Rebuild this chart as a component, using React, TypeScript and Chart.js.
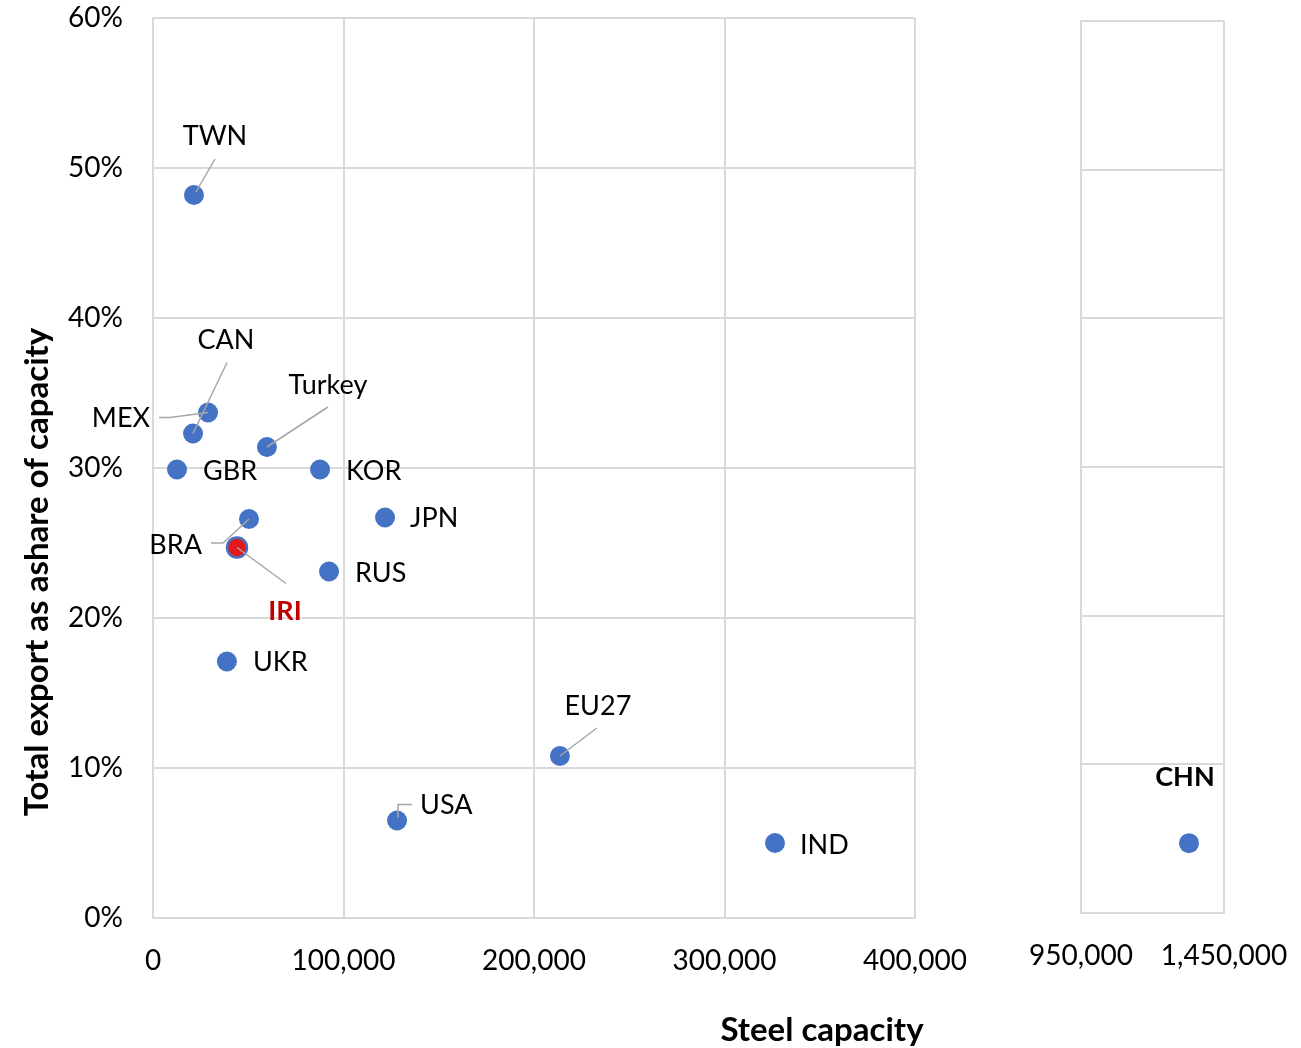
import React, { useEffect, useRef } from "react";
import { Chart, registerables } from "chart.js";

Chart.register(...registerables);

// Steel capacity (thousand tonnes) and total exports as a share of capacity
const countries = ["TWN", "CAN", "MEX", "Turkey", "GBR", "KOR", "JPN", "BRA", "IRI", "RUS", "UKR", "EU27", "USA", "IND"];
const capacity = [21500, 21000, 28900, 59800, 12600, 87700, 121800, 50400, 44100, 92400, 38800, 213600, 128100, 326500];
const exportShare = [0.482, 0.323, 0.337, 0.314, 0.299, 0.299, 0.267, 0.266, 0.247, 0.231, 0.171, 0.108, 0.065, 0.05];

const outlierCountries = ["CHN"];
const outlierCapacity = [1327600];
const outlierShare = [0.047];

const mainXTicks = [0, 100000, 200000, 300000, 400000];
const outlierXTicks = [950000, 1450000];
const yTicks = [0, 0.1, 0.2, 0.3, 0.4, 0.5, 0.6];

const highlighted = "IRI";

// Label placement relative to each marker: text anchor offset, alignment and optional leader line
type Placement = { dx: number; dy: number; align: CanvasTextAlign; leader?: number[][] };
const placements: Record<string, Placement> = {
  TWN: { dx: 21, dy: -59, align: "center", leader: [[2, -3], [21, -36]] },
  CAN: { dx: 33, dy: -93, align: "center", leader: [[0, 0], [34, -71]] },
  MEX: { dx: -58, dy: 6, align: "right", leader: [[0, 0], [-38, 5], [-49, 5]] },
  Turkey: { dx: 61, dy: -62, align: "center", leader: [[0, 0], [61, -40]] },
  GBR: { dx: 26, dy: 2, align: "left" },
  KOR: { dx: 26, dy: 2, align: "left" },
  JPN: { dx: 25, dy: 1, align: "left" },
  BRA: { dx: -47, dy: 26, align: "right", leader: [[0, 0], [-26, 24], [-38, 24]] },
  IRI: { dx: 48, dy: 64, align: "center", leader: [[0, 0], [49, 36]] },
  RUS: { dx: 26, dy: 2, align: "left" },
  UKR: { dx: 26, dy: 1, align: "left" },
  EU27: { dx: 38, dy: -50, align: "center", leader: [[0, 0], [37, -28]] },
  USA: { dx: 23, dy: -15, align: "left", leader: [[1, -3], [1, -16], [15, -16]] },
  IND: { dx: 25, dy: 2, align: "left" },
  CHN: { dx: -4, dy: -66, align: "center" },
};

const FONT = "Lato, Carlito, Calibri, 'Noto Sans', sans-serif";
const BLUE = "#4472C4";
const RED = "#E3191C";
const GRID = "#D9D9D9";
const W = 1301;
const H = 1048;

const pointLabels = (names: string[]) => ({
  id: "pointLabels",
  afterDatasetsDraw(chart: any) {
    const ctx = chart.ctx;
    const meta = chart.getDatasetMeta(0);
    meta.data.forEach((pt: any, i: number) => {
      const name = names[i];
      const p = placements[name];
      if (!p) return;
      ctx.save();
      if (p.leader) {
        ctx.strokeStyle = "#A6A6A6";
        ctx.lineWidth = 1.5;
        ctx.beginPath();
        p.leader.forEach(([lx, ly], k) => {
          if (k === 0) ctx.moveTo(pt.x + lx, pt.y + ly);
          else ctx.lineTo(pt.x + lx, pt.y + ly);
        });
        ctx.stroke();
      }
      const bold = name === highlighted || name === "CHN";
      ctx.font = `${bold ? "bold " : ""}27px ${FONT}`;
      ctx.fillStyle = name === highlighted ? "#C00000" : "#000";
      ctx.textAlign = p.align;
      ctx.textBaseline = "middle";
      ctx.fillText(name, pt.x + p.dx, pt.y + p.dy);
      ctx.restore();
    });
  },
});

const axisTitles = {
  id: "axisTitles",
  afterDraw(chart: any) {
    const ctx = chart.ctx;
    ctx.save();
    ctx.fillStyle = "#000";
    ctx.font = `bold 33px ${FONT}`;
    ctx.textAlign = "center";
    ctx.textBaseline = "middle";
    ctx.fillText("Steel capacity", 822, 1030);
    ctx.translate(37, 572);
    ctx.rotate(-Math.PI / 2);
    ctx.fillText("Total export as ashare of capacity", 0, 0);
    ctx.restore();
  },
};

const fmtNumber = (v: number) => v.toLocaleString("en-US");

function makeConfig(
  names: string[],
  xs: number[],
  ys: number[],
  xTicks: number[],
  area: { left: number; right: number; top: number; bottom: number },
  showY: boolean,
  extraPlugins: any[]
): any {
  const yAxisWidth = showY ? area.left : 100;
  return {
    type: "scatter",
    data: {
      datasets: [
        {
          data: xs.map((x, i) => ({ x, y: ys[i] })),
          pointRadius: 10,
          pointHoverRadius: 10,
          pointBackgroundColor: names.map((n) => (n === highlighted ? RED : BLUE)),
          pointBorderColor: BLUE,
          pointBorderWidth: names.map((n) => (n === highlighted ? 2.5 : 0)),
        },
      ],
    },
    options: {
      responsive: false,
      animation: false,
      events: [],
      layout: {
        padding: { left: area.left - yAxisWidth, top: area.top, right: W - area.right, bottom: 0 },
      },
      plugins: { legend: { display: false }, tooltip: { enabled: false } },
      scales: {
        x: {
          type: "linear",
          min: xTicks[0],
          max: xTicks[xTicks.length - 1],
          afterBuildTicks: (s: any) => {
            s.ticks = xTicks.map((value) => ({ value }));
          },
          afterFit: (s: any) => {
            s.height = H - area.bottom;
            s.paddingLeft = 0;
            s.paddingRight = 0;
          },
          grid: { color: GRID, lineWidth: 2, drawTicks: false },
          border: { color: GRID, width: 2 },
          ticks: {
            color: "#000",
            font: { family: FONT, size: 28 },
            padding: 26,
            maxRotation: 0,
            autoSkip: false,
            callback: (v: number) => fmtNumber(v),
          },
        },
        y: {
          min: 0,
          max: 0.6,
          afterBuildTicks: (s: any) => {
            s.ticks = yTicks.map((value) => ({ value }));
          },
          afterFit: (s: any) => {
            s.width = yAxisWidth;
            s.paddingTop = 0;
            s.paddingBottom = 0;
          },
          grid: { color: GRID, lineWidth: 2, drawTicks: false },
          border: { color: GRID, width: 2 },
          ticks: {
            display: showY,
            color: "#000",
            font: { family: FONT, size: 28 },
            padding: 30,
            callback: (v: number) => `${Math.round(v * 100)}%`,
          },
        },
      },
    },
    plugins: [pointLabels(names), ...extraPlugins],
  };
}

export default function App() {
  const mainRef = useRef<HTMLCanvasElement>(null);
  const sideRef = useRef<HTMLCanvasElement>(null);

  useEffect(() => {
    const main = new Chart(
      mainRef.current!,
      makeConfig(
        countries,
        capacity,
        exportShare,
        mainXTicks,
        { left: 153, right: 915, top: 18, bottom: 918 },
        true,
        [axisTitles]
      )
    );
    const side = new Chart(
      sideRef.current!,
      makeConfig(
        outlierCountries,
        outlierCapacity,
        outlierShare,
        outlierXTicks,
        { left: 1081, right: 1224, top: 21, bottom: 913 },
        false,
        []
      )
    );
    return () => {
      main.destroy();
      side.destroy();
    };
  }, []);

  const canvasStyle: React.CSSProperties = { position: "absolute", left: 0, top: 0 };
  return (
    <div style={{ position: "fixed", left: 0, top: 0, width: W, height: H, background: "#fff" }}>
      <canvas ref={mainRef} width={W} height={H} style={canvasStyle} />
      <canvas ref={sideRef} width={W} height={H} style={canvasStyle} />
    </div>
  );
}
